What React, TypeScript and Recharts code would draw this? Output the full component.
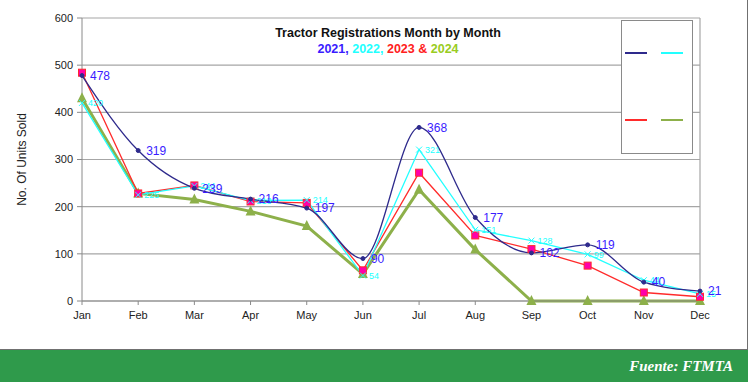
import React from "react";
import {
  CartesianGrid,
  LabelList,
  Legend,
  Line,
  LineChart,
  ReferenceLine,
  XAxis,
  YAxis,
} from "recharts";

const months = ["Jan", "Feb", "Mar", "Apr", "May", "Jun", "Jul", "Aug", "Sep", "Oct", "Nov", "Dec"];
const units2021 = [478, 319, 239, 216, 197, 90, 368, 177, 102, 119, 40, 21];
const units2022 = [420, 225, 244, 213, 214, 54, 321, 151, 128, 99, 44, 15];
const units2023 = [484, 228, 245, 211, 208, 65, 272, 139, 110, 75, 18, 9];
const units2024 = [430, 228, 215, 190, 159, 57, 236, 109, 0, 0, 0, 0];
const yTicks = [0, 100, 200, 300, 400, 500, 600];

const data = months.map((m, i) => ({
  month: m,
  y2021: units2021[i],
  y2022: units2022[i],
  y2023: units2023[i],
  y2024: units2024[i],
}));

const NAVY = "#2e2a8c";
const CYAN = "#22ffff";
const RED = "#ff2b2b";
const GREEN = "#8db04a";

const circleDot = (p: any) => (
  <circle key={`c${p.index}`} cx={p.cx} cy={p.cy} r={2} fill={NAVY} stroke={NAVY} />
);

const crossDot = (p: any) => (
  <g key={`x${p.index}`} stroke={CYAN} strokeWidth={1}>
    <line x1={p.cx - 3} y1={p.cy - 3} x2={p.cx + 3} y2={p.cy + 3} />
    <line x1={p.cx - 3} y1={p.cy + 3} x2={p.cx + 3} y2={p.cy - 3} />
  </g>
);

const squareDot = (p: any) => (
  <rect
    key={`s${p.index}`}
    x={p.cx - 3.5}
    y={p.cy - 3.5}
    width={7}
    height={7}
    fill="#ff00aa"
    stroke={RED}
    strokeWidth={1}
  />
);

const triangleDot = (p: any) => (
  <polygon
    key={`t${p.index}`}
    points={`${p.cx},${p.cy - 6} ${p.cx - 5},${p.cy + 4} ${p.cx + 5},${p.cy + 4}`}
    fill={GREEN}
  />
);

const LegendBox = () => {
  const seg = (x: number, y: number, c: string) => (
    <line x1={x} y1={y} x2={x + 22} y2={y} stroke={c} strokeWidth={2} />
  );
  return (
    <svg width={72} height={134} style={{ display: "block" }}>
      <rect x={0.5} y={0.5} width={71} height={133} fill="#fff" stroke="#8a8a8a" />
      {seg(4, 33, NAVY)}
      {seg(40, 33, CYAN)}
      {seg(4, 100, RED)}
      {seg(40, 100, GREEN)}
    </svg>
  );
};

export default function App() {
  const font = "Arial, 'Liberation Sans', sans-serif";
  return (
    <div
      style={{
        position: "absolute",
        left: 0,
        top: 0,
        width: 748,
        height: 382,
        background: "#fff",
        fontFamily: font,
      }}
    >
      <div
        style={{
          position: "absolute",
          left: 0,
          top: 0,
          width: 747,
          height: 349,
          borderRight: "1px solid #707070",
          borderBottom: "1px solid #707070",
        }}
      />
      <LineChart
        width={748}
        height={350}
        data={data}
        margin={{ top: 18, right: 48, bottom: 19, left: 12 }}
      >
        <CartesianGrid vertical={false} stroke="#a6a6a6" strokeWidth={1.2} />
        <ReferenceLine x="Dec" stroke="#a6a6a6" strokeWidth={1.2} />
        <XAxis
          dataKey="month"
          height={30}
          stroke="#8a8a8a"
          tickSize={4}
          tickMargin={6}
          tick={{ fontSize: 11, fill: "#222", fontFamily: font }}
          interval={0}
        />
        <YAxis
          width={70}
          domain={[0, 600]}
          ticks={yTicks}
          stroke="#8a8a8a"
          tickSize={5}
          tickMargin={4}
          tick={{ fontSize: 11, fill: "#222", fontFamily: font }}
          label={{
            value: "No. Of Units Sold",
            angle: -90,
            position: "insideLeft",
            offset: 10,
            style: { fontSize: 12, fill: "#222", fontFamily: font, textAnchor: "middle" },
          }}
        />
        <Legend
          layout="vertical"
          align="center"
          verticalAlign="middle"
          content={() => <LegendBox />}
          wrapperStyle={{ left: 621, top: 20, width: 72, height: 134 }}
        />
        <Line
          type="linear"
          dataKey="y2024"
          stroke={GREEN}
          strokeWidth={3}
          dot={triangleDot}
          activeDot={false}
          isAnimationActive={false}
        />
        <Line
          type="linear"
          dataKey="y2023"
          stroke={RED}
          strokeWidth={1.3}
          dot={squareDot}
          activeDot={false}
          isAnimationActive={false}
        />
        <Line
          type="linear"
          dataKey="y2022"
          stroke={CYAN}
          strokeWidth={1.3}
          dot={crossDot}
          activeDot={false}
          isAnimationActive={false}
        >
          <LabelList
            dataKey="y2022"
            position="right"
            offset={6}
            style={{ fontSize: 9, fill: CYAN, fontFamily: font }}
          />
        </Line>
        <Line
          type="monotone"
          dataKey="y2021"
          stroke={NAVY}
          strokeWidth={1.3}
          dot={circleDot}
          activeDot={false}
          isAnimationActive={false}
        >
          <LabelList
            dataKey="y2021"
            position="right"
            offset={8}
            style={{ fontSize: 12, fill: "#3a1cff", fontFamily: font }}
          />
        </Line>
      </LineChart>
      <div
        style={{
          position: "absolute",
          left: 188,
          width: 400,
          top: 25,
          textAlign: "center",
          fontWeight: "bold",
          fontSize: 12.5,
          lineHeight: "16px",
          color: "#111",
        }}
      >
        <div>Tractor Registrations Month by Month</div>
        <div>
          <span style={{ color: "#3a1cff" }}>2021, </span>
          <span style={{ color: "#22ffff" }}>2022, </span>
          <span style={{ color: "#ff2020" }}>2023 &amp; </span>
          <span style={{ color: "#99cc22" }}>2024</span>
        </div>
      </div>
      <div
        style={{
          position: "absolute",
          left: 0,
          top: 350,
          width: 748,
          height: 32,
          background: "#2f9a4b",
        }}
      >
        <div
          style={{
            position: "absolute",
            right: 15,
            top: 8,
            color: "#fff",
            fontFamily: "'Liberation Serif', 'DejaVu Serif', serif",
            fontStyle: "italic",
            fontWeight: "bold",
            fontSize: 15,
          }}
        >
          Fuente: FTMTA
        </div>
      </div>
    </div>
  );
}
